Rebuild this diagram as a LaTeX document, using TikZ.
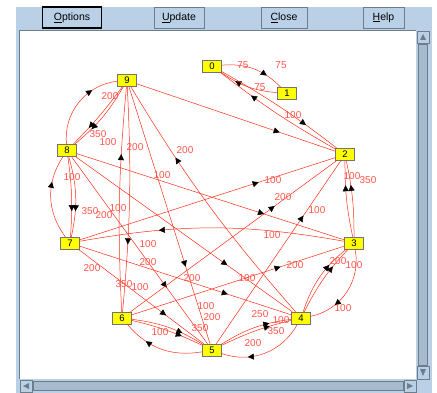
\documentclass[tikz,border=0pt]{standalone}
\usepackage{fontspec}
\setmainfont{Liberation Sans}
\usetikzlibrary{arrows.meta,decorations.markings}
\definecolor{panel}{RGB}{186,208,230}
\definecolor{rim}{RGB}{110,125,140}
\definecolor{edgered}{RGB}{255,45,25}
\definecolor{weightred}{RGB}{255,85,75}
\definecolor{boxyellow}{RGB}{255,255,0}

\tikzset{
  vertex/.style={draw=black!55, fill=boxyellow, minimum width=19pt, minimum height=12pt, inner sep=0pt, font=\fontsize{9.5}{10}\selectfont},
  link/.style={edgered, line width=0.5pt},
  headat/.style={postaction={decorate, decoration={markings, mark=at position #1 with {\arrow{Triangle[length=6pt,width=6pt,color=black]}}}}},
  weight/.style={text=weightred, inner sep=0pt, font=\fontsize{10}{10}\selectfont},
  button/.style={draw=rim, fill=panel, minimum height=21pt, inner sep=0pt, font=\fontsize{10.5}{11}\selectfont},
}

\begin{document}
\begin{tikzpicture}[x=1pt,y=-1pt]
\useasboundingbox (0,0) rectangle (437,393);

% window frame and canvas
\fill[panel] (16,7) rectangle (432,393);
\fill[white] (20,31) rectangle (416,379);
\draw[rim] (19.5,379) -- (19.5,30.5) -- (416,30.5);

% scroll bars
\draw[rim, fill=panel] (417,31) rectangle (429,43);
\draw[rim, fill=panel] (417,366) rectangle (429,379);
\draw[rim, fill=panel!90!black] (418.5,44) rectangle (427.5,365);
\fill[rim] (423,34) -- (420,40) -- (426,40) -- cycle;
\fill[rim] (423,376) -- (420,369) -- (426,369) -- cycle;
\draw[rim, fill=panel] (20,380) rectangle (32,392);
\draw[rim, fill=panel] (404,380) rectangle (416,392);
\draw[rim, fill=panel!90!black] (33,381.5) rectangle (403,390.5);
\fill[rim] (23,386) -- (29,383) -- (29,389) -- cycle;
\fill[rim] (413,386) -- (407,383) -- (407,389) -- cycle;

% buttons
\node[button, draw=black, line width=1.5pt, minimum width=59pt] (options) at (72,17.5) {\underline{O}ptions};
\node[button, minimum width=50pt] (update) at (179,17.5) {\underline{U}pdate};
\node[button, minimum width=46pt] (close) at (284,17.5) {\underline{C}lose};
\node[button, minimum width=41pt] (help) at (383.5,17.5) {\underline{H}elp};

% graph nodes
\node[vertex] (n0) at (212,66) {0};
\node[vertex] (n1) at (287,93.5) {1};
\node[vertex] (n2) at (345,154.5) {2};
\node[vertex] (n3) at (354,243) {3};
\node[vertex] (n4) at (301,318) {4};
\node[vertex] (n5) at (212,350) {5};
\node[vertex] (n6) at (122,318) {6};
\node[vertex] (n7) at (70,243) {7};
\node[vertex] (n8) at (67,150.5) {8};
\node[vertex] (n9) at (127,80.5) {9};

% edges
\draw[link, headat=0.72] (n0) to[bend left=25] (n1);
\draw[link, headat=0.72] (n1) to[bend left=15] (n0);
\draw[link, headat=0.72] (n2) to[bend left=4] (n0);
\draw[link, headat=0.72] (n0) to[bend left=4] (n2);
\draw[link, headat=0.72] (n9) -- (n2);
\draw[link, headat=0.7] (n8) to[bend left=45] (n9);
\draw[link, headat=0.7] (n9) to[bend left=4] (n8);
\draw[link, headat=0.7] (n9) to[bend left=10] (n8);
\draw[link, headat=0.7] (n9) to[bend left=4] (n6);
\draw[link, headat=0.7] (n6) to[bend left=4] (n9);
\draw[link, headat=0.7] (n4) to[bend left=5] (n9);
\draw[link, headat=0.68] (n7) to[bend left=35] (n8);
\draw[link, headat=0.68] (n8) to[bend left=6] (n7);
\draw[link, headat=0.68] (n8) to[bend left=14] (n7);
\draw[link, headat=0.7] (n7) -- (n2);
\draw[link, headat=0.7] (n8) -- (n3);
\draw[link, headat=0.7] (n5) -- (n2);
\draw[link, headat=0.68] (n3) to[bend left=6] (n2);
\draw[link, headat=0.68] (n3) to[bend right=6] (n2);
\draw[link, headat=0.7] (n4) to[bend left=8] (n3);
\draw[link, headat=0.7] (n4) to[bend left=16] (n3);
\draw[link, headat=0.7] (n3) to[bend left=45] (n4);
\draw[link, headat=0.7] (n5) to[bend left=6] (n4);
\draw[link, headat=0.7] (n5) to[bend left=12] (n4);
\draw[link, headat=0.7] (n4) to[bend left=40] (n5);
\draw[link, headat=0.7] (n6) to[bend left=6] (n5);
\draw[link, headat=0.7] (n6) to[bend left=12] (n5);
\draw[link, headat=0.7] (n5) to[bend left=30] (n6);
\draw[link, headat=0.7] (n7) -- (n5);
\draw[link, headat=0.7] (n7) -- (n4);
\draw[link, headat=0.7] (n3) to[bend right=10] (n7);
\draw[link, headat=0.7] (n6) -- (n3);
\draw[link, headat=0.7] (n8) -- (n4);
\draw[link, headat=0.7] (n8) -- (n5);
\draw[link, headat=0.7] (n9) -- (n5);
\draw[link, headat=0.7] (n6) -- (n2);

% edge weights
\foreach \x/\y/\w [count=\i] in {243/65/75, 281/65/75, 260/87/75, 293/115/100,
    110/96/200, 98/134/350, 108/142/100, 135/147/200, 185/150/200,
    72/177/100, 162/175/100, 90/211/350, 104/215/200, 118/208/100,
    273/180/100, 283/197/200, 317/210/100, 352/176/100, 368/180/350,
    272/235/100, 148/244/100, 148/262/200, 92/268/200, 124/284/350, 140/287/100,
    192/278/200, 247/278/100, 295/265/200, 338/261/200, 354/265/100,
    206/306/100, 212/317/200, 200/328/350, 160/332/100, 253/343/200,
    260/314/250, 281/320/100, 276/331/350, 343/308/100}
  \node[weight] (w\i) at (\x,\y) {\w};

\end{tikzpicture}
\end{document}
